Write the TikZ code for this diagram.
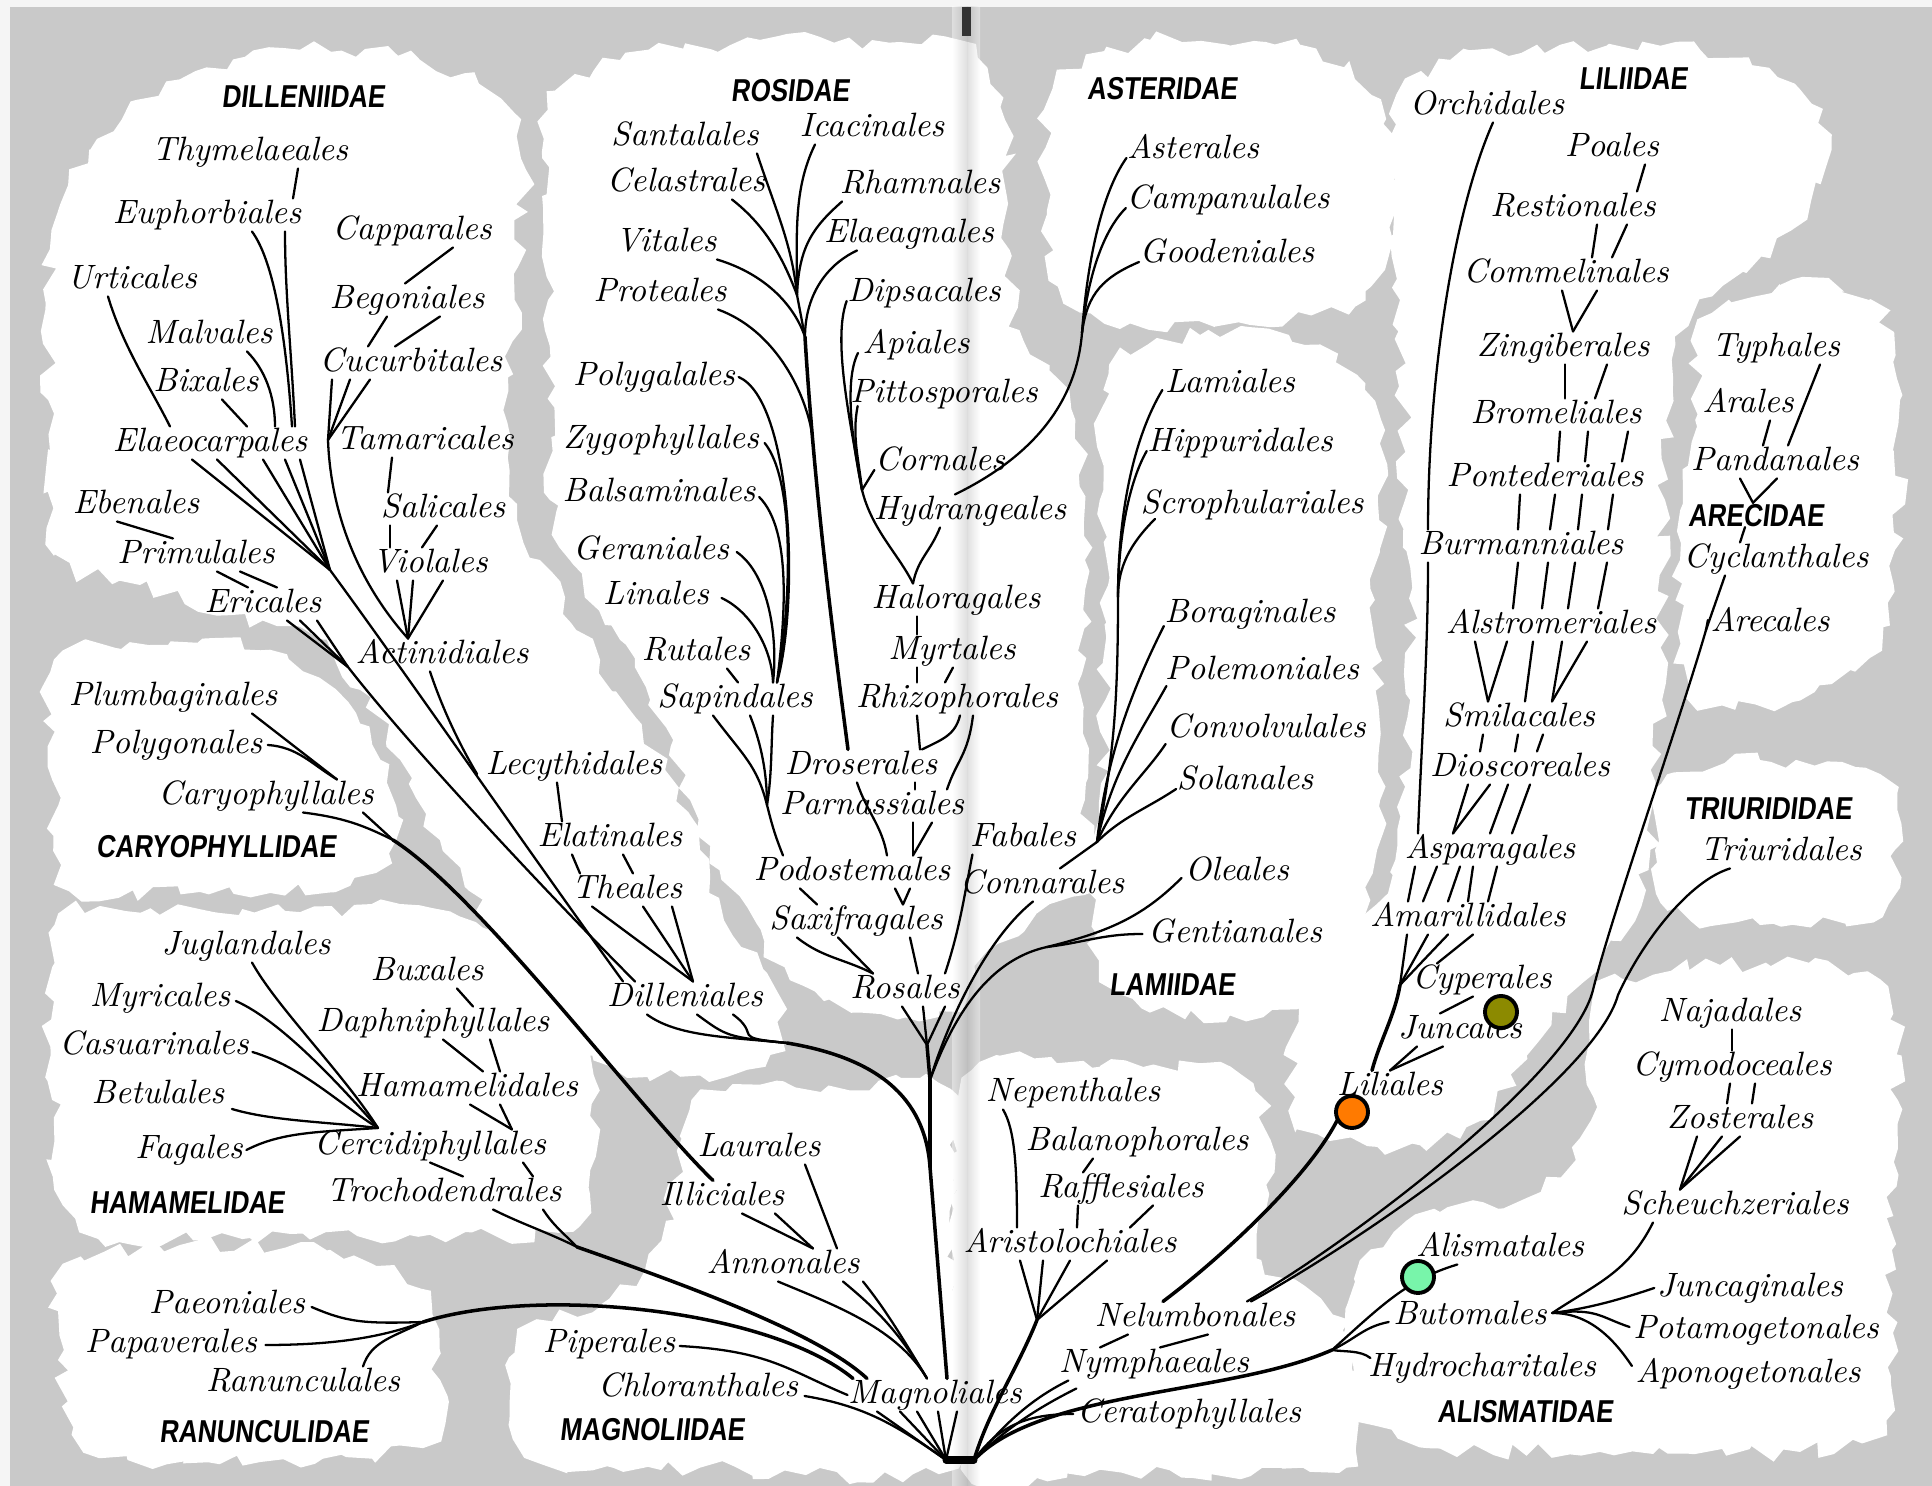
\documentclass[tikz,border=0pt]{standalone}
\usepackage{fontspec}
\newfontfamily\subfont{Liberation Sans}[FakeStretch=0.82,FakeSlant=0.12]
\usetikzlibrary{calc, decorations.pathmorphing}

\definecolor{paper}{gray}{0.79}
\definecolor{margin}{gray}{0.96}
\definecolor{olivedot}{RGB}{140,138,0}
\definecolor{orangedot}{RGB}{255,122,0}
\definecolor{greendot}{RGB}{120,245,170}

\tikzset{
  order/.style={font=\fontsize{9.6}{11}\selectfont\itshape, inner sep=0pt, text height=7pt, text depth=2pt},
  subclass/.style={font=\subfont\bfseries\fontsize{9}{10}\selectfont, inner sep=0pt, text height=6.5pt, text depth=0pt},
  branch/.style={line width=0.65pt, line cap=round},
  trunk/.style={line width=1pt, line cap=round},
  blob/.style={fill=white, decorate, decoration={random steps, segment length=4pt, amplitude=2.4pt}},
  marker/.style={circle, draw=black, line width=1.1pt, minimum size=0.32cm, inner sep=0pt},
}

\begin{document}
\begin{tikzpicture}[x=0.01cm, y=-0.01cm]
\useasboundingbox (0,0) rectangle (1932,1486);
\pgfmathsetseed{7}

% paper
\fill[margin] (0,0) rectangle (1932,1486);
\fill[paper] (10,7) rectangle (1932,1486);

% white clouds, one per subclass
\fill[blob] plot[smooth cycle, tension=0.5] coordinates {(52,230) (90,150) (180,80) (300,50) (420,60) (500,100) (525,170) (515,300) (510,470) (540,560) (600,660) (665,770) (700,850) (725,920) (775,990) (780,1050) (700,1075) (610,1065) (540,1020) (490,930) (440,840) (400,760) (360,690) (320,640) (230,615) (140,585) (55,555) (48,400)};
\fill[blob] plot[smooth cycle, tension=0.5] coordinates {(55,660) (150,645) (270,650) (335,690) (380,760) (395,840) (350,885) (200,892) (70,888) (52,780)};
\fill[blob] plot[smooth cycle, tension=0.5] coordinates {(55,925) (150,908) (300,912) (400,905) (500,935) (560,990) (595,1080) (590,1170) (572,1230) (430,1235) (250,1238) (80,1230) (52,1100)};
\fill[blob] plot[smooth cycle, tension=0.5] coordinates {(65,1265) (180,1245) (330,1250) (420,1290) (440,1380) (420,1445) (260,1462) (100,1456) (58,1360)};
\fill[blob] plot[smooth cycle, tension=0.5] coordinates {(520,1330) (600,1305) (660,1240) (690,1110) (760,1085) (850,1090) (950,1090) (955,1300) (955,1466) (700,1468) (540,1462) (510,1400)};
\fill[blob] plot[smooth cycle, tension=0.5] coordinates {(548,110) (620,60) (760,40) (900,42) (975,48) (1005,120) (1010,250) (1020,330) (1075,420) (1085,560) (1085,800) (1100,870) (1050,905) (990,950) (960,1010) (860,1012) (790,980) (760,930) (720,870) (690,800) (650,700) (620,640) (570,560) (550,500) (548,300)};
\fill[blob] plot[smooth cycle, tension=0.5] coordinates {(1055,85) (1150,40) (1300,45) (1380,100) (1395,200) (1365,300) (1250,325) (1120,328) (1060,285) (1045,180)};
\fill[blob] plot[smooth cycle, tension=0.5] coordinates {(1110,365) (1200,335) (1320,345) (1380,420) (1375,600) (1380,800) (1370,900) (1335,1005) (1150,1012) (1100,960) (1092,860) (1105,700) (1100,500)};
\fill[blob] plot[smooth cycle, tension=0.5] coordinates {(1398,95) (1450,60) (1560,45) (1700,50) (1800,90) (1830,150) (1790,230) (1700,300) (1672,360) (1665,500) (1662,700) (1648,870) (1600,960) (1540,1040) (1480,1120) (1420,1145) (1330,1140) (1290,1110) (1300,1000) (1350,940) (1395,860) (1410,700) (1405,500) (1400,300) (1395,180)};
\fill[blob] plot[smooth cycle, tension=0.5] coordinates {(1700,320) (1780,285) (1870,300) (1900,400) (1895,550) (1880,650) (1800,700) (1688,695) (1680,560) (1695,420)};
\fill[blob] plot[smooth cycle, tension=0.5] coordinates {(1668,775) (1760,760) (1880,775) (1895,850) (1880,915) (1760,925) (1668,910) (1655,850)};
\fill[blob] plot[smooth cycle, tension=0.5] coordinates {(1600,985) (1720,965) (1880,980) (1898,1100) (1892,1250) (1885,1420) (1800,1452) (1600,1452) (1440,1448) (1360,1420) (1345,1330) (1372,1250) (1440,1212) (1540,1190) (1590,1120) (1590,1040)};
\fill[blob] plot[smooth cycle, tension=0.5] coordinates {(962,1078) (1100,1066) (1240,1075) (1270,1140) (1262,1260) (1320,1300) (1352,1350) (1345,1466) (1100,1470) (962,1468)};

% fold of the book
\shade[left color=white, right color=black!30, opacity=0.4] (952,7) rectangle (967,1486);
\shade[left color=black!30, right color=white, opacity=0.4] (967,7) rectangle (980,1486);
\fill[black!80] (962,7) rectangle (971,36);

% subclass names
\node[subclass] (dilleniidae) at (303,96) {DILLENIIDAE};
\node[subclass] (caryophyllidae) at (216,846) {CARYOPHYLLIDAE};
\node[subclass] (hamamelidae) at (187,1202) {HAMAMELIDAE};
\node[subclass] (ranunculidae) at (264,1431) {RANUNCULIDAE};
\node[subclass] (magnoliidae) at (652,1429) {MAGNOLIIDAE};
\node[subclass] (rosidae) at (790,90) {ROSIDAE};
\node[subclass] (asteridae) at (1162,88) {ASTERIDAE};
\node[subclass] (lamiidae) at (1172,984) {LAMIIDAE};
\node[subclass] (liliidae) at (1633,78) {LILIIDAE};
\node[subclass] (arecidae) at (1756,515) {ARECIDAE};
\node[subclass] (triurididae) at (1768,808) {TRIURIDIDAE};
\node[subclass] (alismatidae) at (1525,1411) {ALISMATIDAE};

% dilleniidae orders
\node[order] (thymelaeales) at (250,152) {Thymelaeales};
\node[order] (euphorbiales) at (207,215) {Euphorbiales};
\node[order] (capparales) at (412,231) {Capparales};
\node[order] (urticales) at (132,280) {Urticales};
\node[order] (begoniales) at (407,300) {Begoniales};
\node[order] (malvales) at (209,335) {Malvales};
\node[order] (cucurbitales) at (411,363) {Cucurbitales};
\node[order] (bixales) at (206,383) {Bixales};
\node[order] (elaeocarpales) at (210,443) {Elaeocarpales};
\node[order] (tamaricales) at (425,441) {Tamaricales};
\node[order] (ebenales) at (136,505) {Ebenales};
\node[order] (salicales) at (443,509) {Salicales};
\node[order] (primulales) at (196,555) {Primulales};
\node[order] (violales) at (430,564) {Violales};
\node[order] (ericales) at (263,604) {Ericales};
\node[order] (actinidiales) at (442,655) {Actinidiales};
\node[order] (lecythidales) at (574,766) {Lecythidales};
\node[order] (elatinales) at (610,838) {Elatinales};
\node[order] (theales) at (627,890) {Theales};
\node[order] (dilleniales) at (685,998) {Dilleniales};

% caryophyllidae, hamamelidae, ranunculidae
\node[order] (plumbaginales) at (173,697) {Plumbaginales};
\node[order] (polygonales) at (176,745) {Polygonales};
\node[order] (caryophyllales) at (266,796) {Caryophyllales};
\node[order] (juglandales) at (246,946) {Juglandales};
\node[order] (buxales) at (427,972) {Buxales};
\node[order] (myricales) at (160,998) {Myricales};
\node[order] (daphniphyllales) at (433,1023) {Daphniphyllales};
\node[order] (casuarinales) at (154,1046) {Casuarinales};
\node[order] (hamamelidales) at (467,1088) {Hamamelidales};
\node[order] (betulales) at (158,1095) {Betulales};
\node[order] (cercidiphyllales) at (430,1146) {Cercidiphyllales};
\node[order] (fagales) at (189,1150) {Fagales};
\node[order] (trochodendrales) at (444,1193) {Trochodendrales};
\node[order] (paeoniales) at (227,1305) {Paeoniales};
\node[order] (papaverales) at (171,1344) {Papaverales};
\node[order] (ranunculales) at (303,1383) {Ranunculales};

% magnoliidae
\node[order] (laurales) at (759,1148) {Laurales};
\node[order] (illiciales) at (722,1197) {Illiciales};
\node[order] (annonales) at (783,1265) {Annonales};
\node[order] (piperales) at (609,1344) {Piperales};
\node[order] (chloranthales) at (698,1388) {Chloranthales};
\node[order] (magnoliales) at (935,1395) {Magnoliales};

% rosidae
\node[order] (santalales) at (685,137) {Santalales};
\node[order] (icacinales) at (872,128) {Icacinales};
\node[order] (celastrales) at (686,183) {Celastrales};
\node[order] (rhamnales) at (920,185) {Rhamnales};
\node[order] (elaeagnales) at (909,234) {Elaeagnales};
\node[order] (vitales) at (666,243) {Vitales};
\node[order] (proteales) at (660,293) {Proteales};
\node[order] (dipsacales) at (924,293) {Dipsacales};
\node[order] (apiales) at (916,345) {Apiales};
\node[order] (polygalales) at (654,377) {Polygalales};
\node[order] (pittosporales) at (944,394) {Pittosporales};
\node[order] (zygophyllales) at (661,440) {Zygophyllales};
\node[order] (cornales) at (940,462) {Cornales};
\node[order] (balsaminales) at (659,493) {Balsaminales};
\node[order] (hydrangeales) at (970,511) {Hydrangeales};
\node[order] (geraniales) at (651,551) {Geraniales};
\node[order] (linales) at (656,596) {Linales};
\node[order] (haloragales) at (956,600) {Haloragales};
\node[order] (rutales) at (696,652) {Rutales};
\node[order] (myrtales) at (952,651) {Myrtales};
\node[order] (sapindales) at (735,699) {Sapindales};
\node[order] (rhizophorales) at (957,699) {Rhizophorales};
\node[order] (droserales) at (861,766) {Droserales};
\node[order] (parnassiales) at (872,806) {Parnassiales};
\node[order] (fabales) at (1023,838) {Fabales};
\node[order] (podostemales) at (852,872) {Podostemales};
\node[order] (connarales) at (1042,885) {Connarales};
\node[order] (saxifragales) at (856,921) {Saxifragales};
\node[order] (rosales) at (905,990) {Rosales};

% asteridae, lamiidae
\node[order] (asterales) at (1193,150) {Asterales};
\node[order] (campanulales) at (1228,200) {Campanulales};
\node[order] (goodeniales) at (1227,254) {Goodeniales};
\node[order] (lamiales) at (1230,384) {Lamiales};
\node[order] (hippuridales) at (1240,443) {Hippuridales};
\node[order] (scrophulariales) at (1252,505) {Scrophulariales};
\node[order] (boraginales) at (1250,614) {Boraginales};
\node[order] (polemoniales) at (1262,671) {Polemoniales};
\node[order] (convolvulales) at (1266,729) {Convolvulales};
\node[order] (solanales) at (1245,781) {Solanales};
\node[order] (oleales) at (1237,872) {Oleales};
\node[order] (gentianales) at (1235,934) {Gentianales};

% near the root, right of the fold
\node[order] (nepenthales) at (1073,1093) {Nepenthales};
\node[order] (balanophorales) at (1137,1142) {Balanophorales};
\node[order] (rafflesiales) at (1121,1189) {Rafflesiales};
\node[order] (aristolochiales) at (1070,1244) {Aristolochiales};
\node[order] (nelumbonales) at (1195,1318) {Nelumbonales};
\node[order] (nymphaeales) at (1154,1364) {Nymphaeales};
\node[order] (ceratophyllales) at (1189,1414) {Ceratophyllales};

% liliidae
\node[order] (orchidales) at (1487,106) {Orchidales};
\node[order] (poales) at (1612,148) {Poales};
\node[order] (restionales) at (1573,208) {Restionales};
\node[order] (commelinales) at (1566,274) {Commelinales};
\node[order] (zingiberales) at (1563,348) {Zingiberales};
\node[order] (bromeliales) at (1556,415) {Bromeliales};
\node[order] (pontederiales) at (1545,478) {Pontederiales};
\node[order] (burmanniales) at (1521,546) {Burmanniales};
\node[order] (alstromeriales) at (1551,625) {Alstromeriales};
\node[order] (smilacales) at (1519,718) {Smilacales};
\node[order] (dioscoreales) at (1520,768) {Dioscoreales};
\node[order] (asparagales) at (1490,850) {Asparagales};
\node[order] (amarillidales) at (1468,918) {Amarillidales};
\node[order] (cyperales) at (1482,980) {Cyperales};
\node[order] (juncales) at (1460,1030) {Juncales};
\node[order] (liliales) at (1390,1087) {Liliales};

% arecidae, triurididae, alismatidae
\node[order] (typhales) at (1776,348) {Typhales};
\node[order] (arales) at (1748,404) {Arales};
\node[order] (pandanales) at (1775,462) {Pandanales};
\node[order] (cyclanthales) at (1776,559) {Cyclanthales};
\node[order] (arecales) at (1770,623) {Arecales};
\node[order] (triuridales) at (1781,852) {Triuridales};
\node[order] (najadales) at (1730,1013) {Najadales};
\node[order] (cymodoceales) at (1732,1067) {Cymodoceales};
\node[order] (zosterales) at (1740,1120) {Zosterales};
\node[order] (scheuchzeriales) at (1735,1206) {Scheuchzeriales};
\node[order] (alismatales) at (1500,1248) {Alismatales};
\node[order] (juncaginales) at (1750,1288) {Juncaginales};
\node[order] (butomales) at (1470,1316) {Butomales};
\node[order] (potamogetonales) at (1756,1330) {Potamogetonales};
\node[order] (hydrocharitales) at (1482,1368) {Hydrocharitales};
\node[order] (aponogetonales) at (1748,1374) {Aponogetonales};

% forks
\coordinate (jcuc) at (328,440);
\coordinate (jel) at (330,570);
\coordinate (jer) at (348,667);
\coordinate (jdil) at (787,1043);
\coordinate (jcar) at (393,840);
\coordinate (jcer) at (378,1128);
\coordinate (jham) at (577,1247);
\coordinate (jran) at (423,1322);
\coordinate (jsan) at (797,295);
\coordinate (jvit) at (805,337);
\coordinate (jpro) at (812,433);
\coordinate (jsap) at (767,805);
\coordinate (jhyd) at (862,490);
\coordinate (jast) at (1082,333);
\coordinate (jscr) at (1118,597);
\coordinate (jlam) at (1097,842);
\coordinate (jole) at (1047,947);
\coordinate (jros) at (927,1045);
\coordinate (jtr1) at (930,1080);
\coordinate (jtr2) at (930,1167);
\coordinate (jari) at (1037,1320);
\coordinate (jbut) at (1332,1350);
\coordinate (jama) at (1400,985);
\coordinate (jare) at (1706,630);
\coordinate (jarelow) at (1593,990);
\coordinate (jtrilow) at (1618,995);
\coordinate (baseL) at (946,1460);
\coordinate (baseR) at (974,1460);

% root of the bush
\draw[line width=2pt, line cap=round] (baseL) -- (baseR);

% dilleniidae branches
\draw[branch] ($(thymelaeales.south)+(48,0)$) -- ($(euphorbiales.north)+(86,0)$);
\draw[branch] ($(euphorbiales.south)+(78,0)$) .. controls +(0,60) and +(-4,-80) .. ($(elaeocarpales.north)+(85,0)$);
\draw[branch] ($(euphorbiales.south)+(45,0)$) .. controls +(22,30) and +(-6,-90) .. ($(elaeocarpales.north)+(82,0)$);
\draw[branch] ($(urticales.south)+(-24,0)$) .. controls +(15,50) and +(-20,-40) .. ($(elaeocarpales.north)+(-40,0)$);
\draw[branch] ($(malvales.south)+(38,0)$) .. controls +(18,18) and +(0,-30) .. ($(elaeocarpales.north)+(65,0)$);
\draw[branch] ($(bixales.south)+(16,0)$) -- ($(elaeocarpales.north)+(37,0)$);
\foreach \dx in {-18,7,53,75,90}
  \draw[branch] ($(elaeocarpales.south)+(\dx,0)$) -- (jel);
\draw[branch] ($(capparales.south)+(41,0)$) -- ($(begoniales.north)+(-2,0)$);
\draw[branch] ($(begoniales.south)+(-20,0)$) -- ($(cucurbitales.north)+(-43,0)$);
\draw[branch] ($(begoniales.south)+(33,0)$) -- ($(cucurbitales.north)+(-16,0)$);
\foreach \dx in {-79,-61,-41}
  \draw[branch] ($(cucurbitales.south)+(\dx,0)$) -- (jcuc);
\draw[branch] (jcuc) .. controls +(3,80) and +(-45,-50) .. ($(actinidiales.north)+(-34,0)$);
\draw[branch] ($(tamaricales.south)+(-33,0)$) -- ($(salicales.north)+(-55,0)$);
\draw[branch] ($(salicales.south)+(-53,0)$) -- ($(violales.north)+(-40,0)$);
\draw[branch] ($(salicales.south)+(-6,0)$) -- ($(violales.north)+(-8,0)$);
\foreach \dx in {-33,-17,13}
  \draw[branch] ($(violales.south)+(\dx,0)$) -- ($(actinidiales.north)+(-34,0)$);
\draw[branch] ($(ebenales.south)+(-19,0)$) -- ($(primulales.north)+(-23,0)$);
\draw[branch] ($(primulales.south)+(21,0)$) -- ($(ericales.north)+(-15,0)$);
\draw[branch] ($(primulales.south)+(44,0)$) -- ($(ericales.north)+(14,0)$);
\foreach \dx in {24,37,54}
  \draw[branch] ($(ericales.south)+(\dx,0)$) -- (jer);
\draw[branch] (jel) .. controls +(70,95) and +(-80,-110) .. ($(dilleniales.north)+(-62,0)$);
\draw[branch] (jer) .. controls +(70,90) and +(-60,-60) .. ($(dilleniales.north)+(-50,0)$);
\draw[branch] ($(actinidiales.south)+(-12,0)$) .. controls +(15,45) and +(-12,-20) .. ($(lecythidales.west)+(-8,8)$);
\draw[branch] ($(lecythidales.south)+(-17,0)$) -- ($(elatinales.north)+(-48,0)$);
\draw[branch] ($(elatinales.south)+(-38,0)$) -- ($(theales.north)+(-47,0)$);
\draw[branch] ($(elatinales.south)+(13,0)$) -- ($(theales.north)+(6,0)$);
\foreach \dx in {-35,16,45}
  \draw[branch] ($(theales.south)+(\dx,0)$) -- ($(dilleniales.north)+(8,0)$);
\foreach \dx in {-38,12,48}
  \draw[branch] ($(dilleniales.south)+(\dx,0)$) .. controls +(30,22) and +(-60,-6) .. (jdil);
\draw[trunk] (jdil) .. controls +(90,15) and +(-5,-70) .. (jtr2);

% caryophyllidae branches
\draw[branch] ($(plumbaginales.south)+(79,0)$) -- ($(caryophyllales.north)+(71,0)$);
\draw[branch] ($(polygonales.east)+(5,0)$) .. controls +(30,2) and +(-25,-15) .. ($(caryophyllales.north)+(71,0)$);
\draw[branch] ($(caryophyllales.south)+(97,0)$) -- (jcar);
\draw[branch] ($(caryophyllales.south)+(37,0)$) .. controls +(40,5) and +(-30,-15) .. (jcar);
\draw[trunk] (jcar) .. controls (480,895) and (640,1110) .. ($(illiciales.north)+(-9,0)$);

% hamamelidae branches
\draw[branch] ($(juglandales.south)+(6,0)$) .. controls +(25,45) and +(-35,-55) .. (jcer);
\draw[branch] ($(myricales.east)+(5,3)$) .. controls +(45,20) and +(-40,-45) .. (jcer);
\draw[branch] ($(casuarinales.east)+(3,6)$) .. controls +(50,15) and +(-40,-25) .. (jcer);
\draw[branch] ($(betulales.east)+(7,14)$) .. controls +(40,12) and +(-50,-6) .. (jcer);
\draw[branch] ($(fagales.east)+(3,0)$) .. controls +(35,-18) and +(-60,4) .. (jcer);
\draw[branch] ($(buxales.south)+(30,0)$) -- ($(daphniphyllales.north)+(40,0)$);
\draw[branch] ($(daphniphyllales.south)+(10,0)$) -- ($(hamamelidales.north)+(16,0)$);
\draw[branch] ($(daphniphyllales.south)+(57,0)$) -- ($(hamamelidales.north)+(33,0)$);
\draw[branch] ($(hamamelidales.south)+(3,0)$) -- ($(cercidiphyllales.north)+(82,0)$);
\draw[branch] ($(hamamelidales.south)+(33,0)$) -- ($(cercidiphyllales.north)+(82,0)$);
\draw[branch] (cercidiphyllales.south) -- ($(trochodendrales.north)+(19,0)$);
\draw[branch] ($(cercidiphyllales.south)+(93,0)$) -- ($(trochodendrales.north)+(89,0)$);
\draw[branch] ($(trochodendrales.south)+(49,0)$) .. controls +(30,15) and +(-30,-15) .. (jham);
\draw[branch] ($(trochodendrales.south)+(99,0)$) .. controls +(10,15) and +(-20,-20) .. (jham);
\draw[trunk] (jham) .. controls (700,1290) and (820,1335) .. ($(magnoliales.north)+(-68,0)$);

% ranunculidae branches
\draw[branch] ($(paeoniales.east)+(6,2)$) .. controls +(35,15) and +(-60,2) .. (jran);
\draw[branch] ($(papaverales.east)+(8,1)$) .. controls +(70,0) and +(-40,15) .. (jran);
\draw[branch] ($(ranunculales.north)+(60,0)$) .. controls +(8,-25) and +(-30,15) .. (jran);
\draw[trunk] (jran) .. controls (540,1285) and (770,1310) .. ($(magnoliales.north)+(-82,0)$);

% magnoliidae branches
\draw[branch] ($(laurales.south)+(46,0)$) -- ($(annonales.north)+(54,0)$);
\draw[branch] ($(illiciales.south)+(20,0)$) -- ($(annonales.north)+(30,0)$);
\draw[branch] ($(illiciales.south)+(53,0)$) -- ($(annonales.north)+(30,0)$);
\foreach \dx/\cx in {-5/60,60/30,80/20}
  \draw[branch] ($(annonales.south)+(\dx,0)$) .. controls +(\cx,25) and +(-30,-50) .. ($(magnoliales.north)+(-8,0)$);
\draw[branch] ($(piperales.east)+(4,2)$) .. controls +(90,5) and +(-60,-25) .. (magnoliales.west);
\draw[branch] ($(chloranthales.east)+(6,8)$) .. controls +(60,10) and +(-50,-35) .. (baseL);
\foreach \dx in {-58,-35,-18,3,22}
  \draw[branch] ($(magnoliales.south)+(\dx,0)$) -- (baseL);

% rosidae branches
\draw[branch] ($(santalales.south)+(72,0)$) .. controls +(20,60) and +(-5,-50) .. (jsan);
\draw[branch] ($(icacinales.south)+(-57,0)$) .. controls +(-22,45) and +(0,-60) .. (jsan);
\draw[branch] ($(celastrales.south)+(46,0)$) .. controls +(32,25) and +(-15,-40) .. (jsan);
\draw[branch] ($(rhamnales.south)+(-78,0)$) .. controls +(-28,25) and +(2,-50) .. (jsan);
\draw[branch] (jsan) -- (jvit);
\draw[branch] ($(vitales.south)+(51,0)$) .. controls +(50,15) and +(-10,-30) .. (jvit);
\draw[branch] ($(elaeagnales.south)+(-52,0)$) .. controls +(-32,15) and +(0,-40) .. (jvit);
\draw[trunk] (jvit) .. controls (815,500) and (835,650) .. ($(droserales.north)+(-13,0)$);
\draw[branch] ($(proteales.south)+(58,0)$) .. controls +(55,20) and +(-8,-45) .. (jpro);
\draw[branch] ($(polygalales.east)+(3,0)$) .. controls +(53,23) and +(23,-83) .. ($(sapindales.north)+(42,0)$);
\draw[branch] ($(zygophyllales.east)+(5,3)$) .. controls +(30,37) and +(15,-83) .. ($(sapindales.north)+(42,0)$);
\draw[branch] ($(balsaminales.east)+(3,4)$) .. controls +(33,33) and +(8,-63) .. ($(sapindales.north)+(42,0)$);
\draw[branch] ($(geraniales.east)+(7,1)$) .. controls +(33,23) and +(5,-43) .. ($(sapindales.north)+(38,0)$);
\draw[branch] ($(linales.east)+(12,2)$) .. controls +(30,14) and +(-1,-33) .. ($(sapindales.north)+(38,0)$);
\draw[branch] ($(rutales.south)+(31,0)$) -- ($(sapindales.north)+(3,0)$);
\draw[branch] ($(sapindales.south)+(-22,0)$) .. controls +(30,40) and +(-10,-40) .. (jsap);
\draw[branch] ($(sapindales.south)+(15,0)$) .. controls +(12,30) and +(0,-30) .. (jsap);
\draw[branch] ($(sapindales.south)+(38,0)$) .. controls +(-2,30) and +(5,-30) .. (jsap);
\draw[branch] (jsap) .. controls +(5,20) and +(-8,-20) .. ($(podostemales.north)+(-69,0)$);
\draw[branch] ($(droserales.south)+(-4,0)$) .. controls +(10,30) and +(-5,-30) .. ($(podostemales.north)+(35,0)$);
\draw[branch] ($(droserales.south)+(54,0)$) -- ($(parnassiales.north)+(43,0)$);
\draw[branch] ($(parnassiales.south)+(60,0)$) -- ($(podostemales.north)+(61,0)$);
\draw[branch] ($(parnassiales.south)+(41,0)$) -- ($(podostemales.north)+(61,0)$);
\draw[branch] ($(podostemales.south)+(43,0)$) -- ($(saxifragales.north)+(47,0)$);
\draw[branch] ($(podostemales.south)+(58,0)$) -- ($(saxifragales.north)+(47,0)$);
\draw[branch] ($(podostemales.south)+(-52,0)$) -- ($(saxifragales.north)+(-39,0)$);
\draw[branch] ($(saxifragales.south)+(-59,0)$) .. controls +(25,20) and +(-30,-15) .. ($(rosales.north)+(-32,0)$);
\draw[branch] ($(saxifragales.south)+(-18,0)$) -- ($(rosales.north)+(-32,0)$);
\draw[branch] ($(saxifragales.south)+(54,0)$) -- ($(rosales.north)+(13,0)$);
\draw[branch] ($(dipsacales.west)+(0,8)$) .. controls +(-15,40) and +(-10,-60) .. (jhyd);
\draw[branch] ($(apiales.west)+(-4,8)$) .. controls +(-15,30) and +(-8,-40) .. (jhyd);
\draw[branch] ($(pittosporales.west)+(8,12)$) .. controls +(-6,30) and +(-3,-30) .. (jhyd);
\draw[branch] ($(cornales.west)+(0,8)$) .. controls +(-5,8) and +(5,-8) .. (jhyd);
\draw[branch] (jhyd) .. controls +(10,40) and +(-15,-30) .. ($(haloragales.north)+(-43,0)$);
\draw[branch] ($(hydrangeales.south)+(-30,0)$) .. controls +(-10,25) and +(5,-25) .. ($(haloragales.north)+(-43,0)$);
\draw[branch] ($(haloragales.south)+(-39,0)$) -- ($(myrtales.north)+(-35,0)$);
\draw[branch] ($(myrtales.south)+(-35,0)$) -- ($(rhizophorales.north)+(-40,0)$);
\draw[branch] ($(myrtales.south)+(1,0)$) -- ($(rhizophorales.north)+(-12,0)$);
\draw[branch] ($(rhizophorales.south)+(-40,0)$) -- ($(droserales.north)+(59,0)$);
\draw[branch] ($(rhizophorales.south)+(3,0)$) .. controls +(-5,20) and +(20,-10) .. ($(droserales.north)+(61,0)$);
\draw[branch] ($(rhizophorales.south)+(16,0)$) .. controls +(-5,40) and +(10,-30) .. ($(parnassiales.north)+(75,0)$);
\draw[branch] ($(fabales.south west)+(3,0)$) .. controls +(-8,40) and +(15,-45) .. ($(rosales.north)+(40,0)$);
\foreach \dx in {-3,18,40}
  \draw[branch] ($(rosales.south)+(\dx,0)$) -- (jros);
\draw[trunk] (jros) -- (jtr1) -- (jtr2) -- ($(magnoliales.north)+(12,0)$);

% asteridae branches
\draw[branch] ($(asterales.west)+(0,8)$) .. controls +(-25,35) and +(5,-70) .. (jast);
\draw[branch] ($(campanulales.west)+(0,8)$) .. controls +(-25,25) and +(5,-50) .. (jast);
\draw[branch] ($(goodeniales.west)+(0,8)$) .. controls +(-35,15) and +(5,-40) .. (jast);
\draw[branch] (jast) .. controls +(-7,87) and +(55,-27) .. ($(hydrangeales.north)+(-15,0)$);

% lamiidae branches
\draw[branch] ($(lamiales.west)+(-2,6)$) .. controls +(-30,50) and +(0,-80) .. (jscr);
\draw[branch] ($(hippuridales.west)+(0,8)$) .. controls +(-20,35) and +(0,-50) .. (jscr);
\draw[branch] ($(scrophulariales.west)+(15,14)$) .. controls +(-25,25) and +(0,-30) .. (jscr);
\draw[branch] (jscr) .. controls +(0,120) and +(15,-80) .. (jlam);
\draw[branch] ($(boraginales.west)+(0,12)$) .. controls +(-30,60) and +(10,-90) .. (jlam);
\draw[branch] ($(polemoniales.west)+(2,15)$) .. controls +(-25,45) and +(15,-70) .. (jlam);
\draw[branch] ($(convolvulales.west)+(0,15)$) .. controls +(-20,30) and +(20,-45) .. (jlam);
\draw[branch] ($(solanales.west)+(0,8)$) .. controls +(-30,20) and +(25,-25) .. (jlam);
\draw[branch] (jlam) -- ($(connarales.north)+(18,0)$);
\draw[branch] ($(connarales.south)+(-9,0)$) .. controls +(-50,40) and +(15,-50) .. (jtr1);
\draw[branch] ($(oleales.west)+(-3,6)$) .. controls +(-40,40) and +(60,-15) .. (jole);
\draw[branch] ($(gentianales.west)+(-5,0)$) .. controls +(-40,0) and +(40,-5) .. (jole);
\draw[branch] (jole) .. controls +(-70,15) and +(15,-40) .. (jtr1);

% right of the fold, near the root
\draw[branch] ($(nepenthales.south)+(-70,0)$) .. controls +(12,20) and +(0,-60) .. ($(aristolochiales.north)+(-53,0)$);
\draw[branch] ($(balanophorales.south)+(-44,0)$) -- ($(rafflesiales.north)+(-38,0)$);
\draw[branch] ($(rafflesiales.south)+(-43,0)$) -- ($(aristolochiales.north)+(7,0)$);
\draw[branch] ($(rafflesiales.south)+(32,0)$) -- ($(aristolochiales.north)+(60,0)$);
\foreach \dx in {-50,-27,0,37}
  \draw[branch] ($(aristolochiales.south)+(\dx,0)$) -- (jari);
\draw[trunk] (jari) .. controls +(-20,50) and +(15,-50) .. (baseR);
\draw[branch] ($(nelumbonales.south)+(-67,0)$) -- ($(nymphaeales.north)+(-54,0)$);
\draw[branch] ($(nelumbonales.south)+(13,0)$) -- ($(nymphaeales.north)+(6,0)$);
\draw[branch] ($(nymphaeales.south west)+(10,0)$) .. controls +(-40,20) and +(30,-35) .. (baseR);
\draw[branch] ($(nymphaeales.south west)+(18,8)$) .. controls +(-40,20) and +(30,-30) .. (baseR);
\draw[branch] ($(ceratophyllales.west)+(-3,0)$) .. controls +(-45,0) and +(25,-35) .. (baseR);
\draw[trunk] (jbut) .. controls +(-102,45) and +(66,-70) .. (baseR);

% liliidae branches
\draw[branch] ($(orchidales.south)+(6,0)$) .. controls +(-40,90) and +(0,-150) .. ($(burmanniales.north west)+(10,0)$);
\draw[branch] ($(burmanniales.south west)+(10,0)$) .. controls +(0,90) and +(3,-80) .. ($(asparagales.north)+(-72,0)$);
\draw[branch] ($(poales.south)+(33,0)$) -- ($(restionales.north)+(64,0)$);
\draw[branch] ($(restionales.south)+(24,0)$) -- ($(commelinales.north)+(26,0)$);
\draw[branch] ($(restionales.south)+(54,0)$) -- ($(commelinales.north)+(46,0)$);
\draw[branch] ($(commelinales.south)+(-4,0)$) -- ($(zingiberales.north)+(10,0)$);
\draw[branch] ($(commelinales.south)+(31,0)$) -- ($(zingiberales.north)+(10,0)$);
\draw[branch] ($(zingiberales.south)+(2,0)$) -- ($(bromeliales.north)+(9,0)$);
\draw[branch] ($(zingiberales.south)+(44,0)$) -- ($(bromeliales.north)+(39,0)$);
\foreach \a/\b in {4/13,32/40,72/77}
  \draw[branch] ($(bromeliales.south)+(\a,0)$) -- ($(pontederiales.north)+(\b,0)$);
\foreach \a/\b in {-25/-3,10/29,37/57,68/87}
  \draw[branch] ($(pontederiales.south)+(\a,0)$) -- ($(burmanniales.north)+(\b,0)$);
\foreach \a/\b in {-3/-38,27/-9,54/17,86/47}
  \draw[branch] ($(burmanniales.south)+(\a,0)$) -- ($(alstromeriales.north)+(\b,0)$);
\foreach \a/\b in {-76/-31,-44/-31,-18/6,11/33,36/33}
  \draw[branch] ($(alstromeriales.south)+(\a,0)$) -- ($(smilacales.north)+(\b,0)$);
\foreach \a/\b in {-36/-40,-1/-5,24/17}
  \draw[branch] ($(smilacales.south)+(\a,0)$) -- ($(dioscoreales.north)+(\b,0)$);
\foreach \a/\b in {-52/-37,-30/-37,-12/0,10/22}
  \draw[branch] ($(dioscoreales.south)+(\a,0)$) -- ($(asparagales.north)+(\b,0)$);
\foreach \a/\b in {-75/-60,-53/-45,-30/-20,-17/0,7/20}
  \draw[branch] ($(asparagales.south)+(\a,0)$) -- ($(amarillidales.north)+(\b,0)$);
\foreach \dx in {-61,-40,-20}
  \draw[branch] ($(amarillidales.south)+(\dx,0)$) -- (jama);
\draw[branch] ($(amarillidales.south)+(5,0)$) -- ($(cyperales.north)+(-45,0)$);
\draw[trunk] (jama) .. controls +(-5,30) and +(8,-30) .. ($(liliales.north)+(-18,0)$);
\draw[branch] ($(cyperales.south)+(-9,0)$) -- ($(juncales.north)+(-20,0)$);
\draw[branch] ($(juncales.south)+(-17,0)$) -- (liliales.north);
\draw[branch] ($(juncales.south)+(-43,0)$) -- (liliales.north);
\draw[trunk] ($(liliales.south west)+(8,0)$) .. controls +(-20,60) and +(60,-45) .. ($(nelumbonales.north)+(-32,0)$);

% arecidae and triurididae branches
\draw[branch] ($(typhales.south)+(44,0)$) -- ($(pandanales.north)+(13,0)$);
\draw[branch] ($(arales.south)+(22,0)$) -- ($(pandanales.north)+(-12,0)$);
\draw[branch] ($(pandanales.south)+(-35,0)$) -- ($(arecidae.north)+(-3,0)$);
\draw[branch] ($(pandanales.south)+(2,0)$) -- ($(arecidae.north)+(-3,0)$);
\draw[branch] ($(arecidae.south)+(-11,0)$) -- ($(cyclanthales.north)+(-36,0)$);
\draw[branch] ($(cyclanthales.south)+(-51,0)$) -- (jare);
\draw[branch] ($(arecales.west)+(-2,-3)$) -- (jare);
\draw[branch] (jare) .. controls +(-26,90) and +(17,-70) .. (jarelow) .. controls +(-20,80) and +(120,-70) .. ($(nelumbonales.north)+(52,0)$);
\draw[branch] ($(triuridales.south)+(-51,0)$) .. controls +(-40,12) and +(25,-55) .. (jtrilow) .. controls +(-22,80) and +(130,-72) .. ($(nelumbonales.north)+(56,0)$);

% alismatidae branches
\draw[branch] ($(najadales.south)+(2,0)$) -- (cymodoceales.north);
\draw[branch] ($(cymodoceales.south)+(-2,0)$) -- ($(zosterales.north)+(-13,0)$);
\draw[branch] ($(cymodoceales.south)+(23,0)$) -- ($(zosterales.north)+(12,0)$);
\foreach \dx in {-43,-18,0}
  \draw[branch] ($(zosterales.south)+(\dx,0)$) -- ($(scheuchzeriales.north)+(-55,0)$);
\draw[branch] ($(scheuchzeriales.south)+(-82,0)$) .. controls +(-25,50) and +(45,-30) .. ($(butomales.east)+(5,-3)$);
\draw[branch] ($(butomales.east)+(5,-3)$) .. controls +(40,-5) and +(-30,10) .. ($(juncaginales.west)+(-2,0)$);
\draw[branch] ($(butomales.east)+(5,-3)$) .. controls +(45,-5) and +(-30,-10) .. ($(potamogetonales.west)+(-3,-3)$);
\draw[branch] ($(butomales.east)+(5,-3)$) .. controls +(35,0) and +(-20,-30) .. ($(aponogetonales.west)+(-3,-8)$);
\draw[branch] ($(alismatales.south west)+(42,0)$) .. controls +(-50,15) and +(50,-45) .. (jbut);
\draw[branch] ($(butomales.west)+(-4,6)$) .. controls +(-25,5) and +(25,-12) .. (jbut);
\draw[branch] ($(hydrocharitales.west)+(3,-10)$) .. controls +(-10,-8) and +(12,2) .. (jbut);

% coloured markers
\node[marker, fill=olivedot] (olivemark) at (1501,1012) {};
\node[marker, fill=orangedot] (orangemark) at (1352,1112) {};
\node[marker, fill=greendot] (greenmark) at (1418,1277) {};

\end{tikzpicture}
\end{document}
